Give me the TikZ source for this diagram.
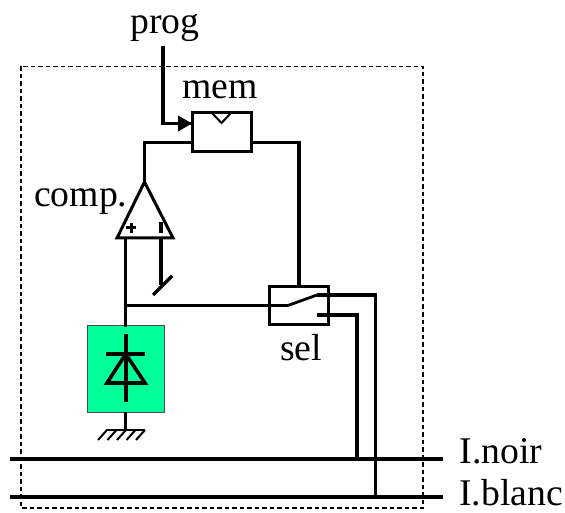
\documentclass[tikz,border=0pt]{standalone}
\usepackage{fontspec}
\setmainfont{Liberation Serif}
\usetikzlibrary{arrows.meta}
\definecolor{cellgreen}{RGB}{0,255,153}
\tikzset{
  x=1pt,y=-1pt,
  wire/.style={line width=3.4pt,line cap=rect,line join=miter},
  thinwire/.style={line width=3.4pt,line cap=butt},
  boxed/.style={draw=black,line width=3pt,fill=white,minimum width=#1,inner sep=0pt,outer sep=0pt},
  lbl/.style={font=\fontsize{37.7}{37.7}\selectfont,inner sep=0pt,anchor=base west},
}
\begin{document}
\begin{tikzpicture}
\useasboundingbox[fill=white] (0,0) rectangle (565,513);
% frame
\draw[line width=1.6pt,dash pattern=on 4.5pt off 3pt] (21,66.5) rectangle (423,508);
% coordinates
\coordinate (pt) at (163,46.5);
\coordinate (pb) at (163,123.5);
\coordinate (memin) at (192,123.5);
\coordinate (meml) at (192,142.5);
\coordinate (memr) at (251,142.5);
\coordinate (c1) at (144.5,142.5);
\coordinate (apex) at (144.5,182);
\coordinate (bl) at (117,238);
\coordinate (br) at (173,238);
\coordinate (inp) at (125.7,238);
\coordinate (inm) at (161,238);
\coordinate (inme) at (161,285);
\coordinate (s1) at (153,295);
\coordinate (s2) at (172,276);
\coordinate (j) at (125.7,305.5);
\coordinate (gtop) at (125.7,325);
\coordinate (gbot) at (125.7,412);
\coordinate (gnd) at (125.7,430);
\coordinate (c2) at (299,142.5);
\coordinate (seltop) at (299,286);
\coordinate (sw0) at (288,305.5);
\coordinate (sw1) at (317,295);
\coordinate (sw2) at (317,315);
\coordinate (c3) at (375.5,295);
\coordinate (c4) at (357,315);
\coordinate (nl) at (10,459);
\coordinate (nr) at (443,459);
\coordinate (bbl) at (10,497);
\coordinate (bbr) at (443,497);
\coordinate (jn) at (357,459);
\coordinate (jb) at (375.5,497);
% green cell
\node[draw=black!70,line width=1pt,fill=cellgreen,minimum width=77pt,minimum height=87pt,inner sep=0pt,outer sep=0pt] (cell) at (125.5,368.5) {};
% wires
\draw[thinwire] (pt) -- (pb) -- (memin);
\fill (memin) -- (178,115.5) -- (178,131.5) -- cycle;
\draw[wire] (meml) -- (c1) -- (apex);
\draw[wire] (memr) -- (c2) -- (seltop);
\draw[wire] (inp) -- (gtop);
\draw[thinwire] (inm) -- (inme);
\draw[line width=3.2pt] (s1) -- (s2);
\draw[thinwire] (j) -- (sw0);
\draw[line width=2.8pt] (sw0) -- (sw1);
\draw[thinwire,line join=miter] (sw1) -- (c3) -- (jb);
\draw[thinwire,line join=miter] (sw2) -- (c4) -- (jn);
\draw[thinwire] (nl) -- (nr);
\draw[thinwire] (bbl) -- (bbr);
% boxes
\node[boxed=59pt,minimum height=39pt,fill=white] (mem) at (221.5,132.5) {};
\draw[line width=2pt] (212,113) -- (221.5,123) -- (231,113);
\node[boxed=59pt,minimum height=38pt,fill=none] (sel) at (298.5,305) {};
% comparator
\draw[line width=3pt,fill=white,line join=miter] (apex) -- (br) -- (bl) -- cycle;
\draw[line width=3pt] (126,228) -- (136,228) (131,223) -- (131,233);
\draw[line width=3.2pt] (161,222) -- (161,233);
% diode
\draw[line width=3.6pt] (125.7,334) -- (125.7,402);
\draw[line width=3.6pt] (106,354) -- (145,354);
\draw[line width=3.6pt,line join=miter] (125.7,354) -- (107,383) -- (145,383) -- cycle;
% ground
\draw[thinwire] (gbot) -- (gnd);
\draw[line width=2.6pt] (106,430) -- (145,430);
\foreach \xx in {107,116.5,126,135.5,145}
  \draw[line width=2pt] (\xx,430) -- (\xx-9,440);
% labels
\node[lbl] (prog) at (130,33.5) {prog};
\node[lbl] (memlbl) at (182,99) {mem};
\node[lbl] (comp) at (34,207) {comp.};
\node[lbl] (sellbl) at (280,360) {sel};
\node[lbl] (noir) at (459.5,463) {I.noir};
\node[lbl] (blanc) at (459,505.5) {I.blanc};
\end{tikzpicture}
\end{document}
